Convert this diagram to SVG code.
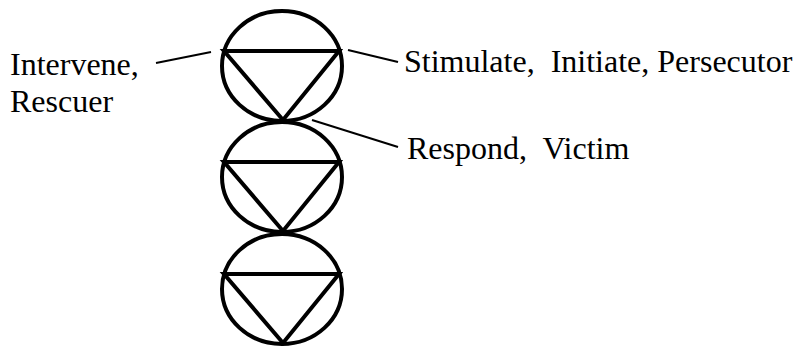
<svg xmlns="http://www.w3.org/2000/svg" width="795" height="347" viewBox="0 0 795 347">
<style>
.sym{fill:none;stroke:#000;stroke-width:4}
.ln{stroke:#000;stroke-width:2;fill:none}
.t{font-size:32px;fill:#000}
</style>
<rect width="795" height="347" fill="#fff"/>
<defs>
<g id="sym">
<ellipse class="sym" cx="0" cy="0" rx="60" ry="55"/>
<path class="sym" d="M-58,-15 H57 L1,54 Z" stroke-linejoin="miter"/>
</g>
</defs>
<g id="node1"><use href="#sym" x="282" y="66"/></g>
<g id="node2"><use href="#sym" x="282" y="177"/></g>
<g id="node3"><use href="#sym" x="282" y="289"/></g>
<g id="connectors">
<line class="ln" x1="156" y1="63" x2="211" y2="52"/>
<line class="ln" x1="348" y1="50" x2="398" y2="62"/>
<line class="ln" x1="312" y1="120" x2="398" y2="147"/>
</g>
<g id="labels" font-family="Liberation Serif, Times New Roman, serif">
<text class="t" x="10" y="75">Intervene,</text>
<text class="t" x="10" y="112">Rescuer</text>
<text class="t" x="404" y="72" xml:space="preserve">Stimulate,  Initiate, Persecutor</text>
<text class="t" x="407" y="159" xml:space="preserve">Respond,  Victim</text>
</g>
</svg>
